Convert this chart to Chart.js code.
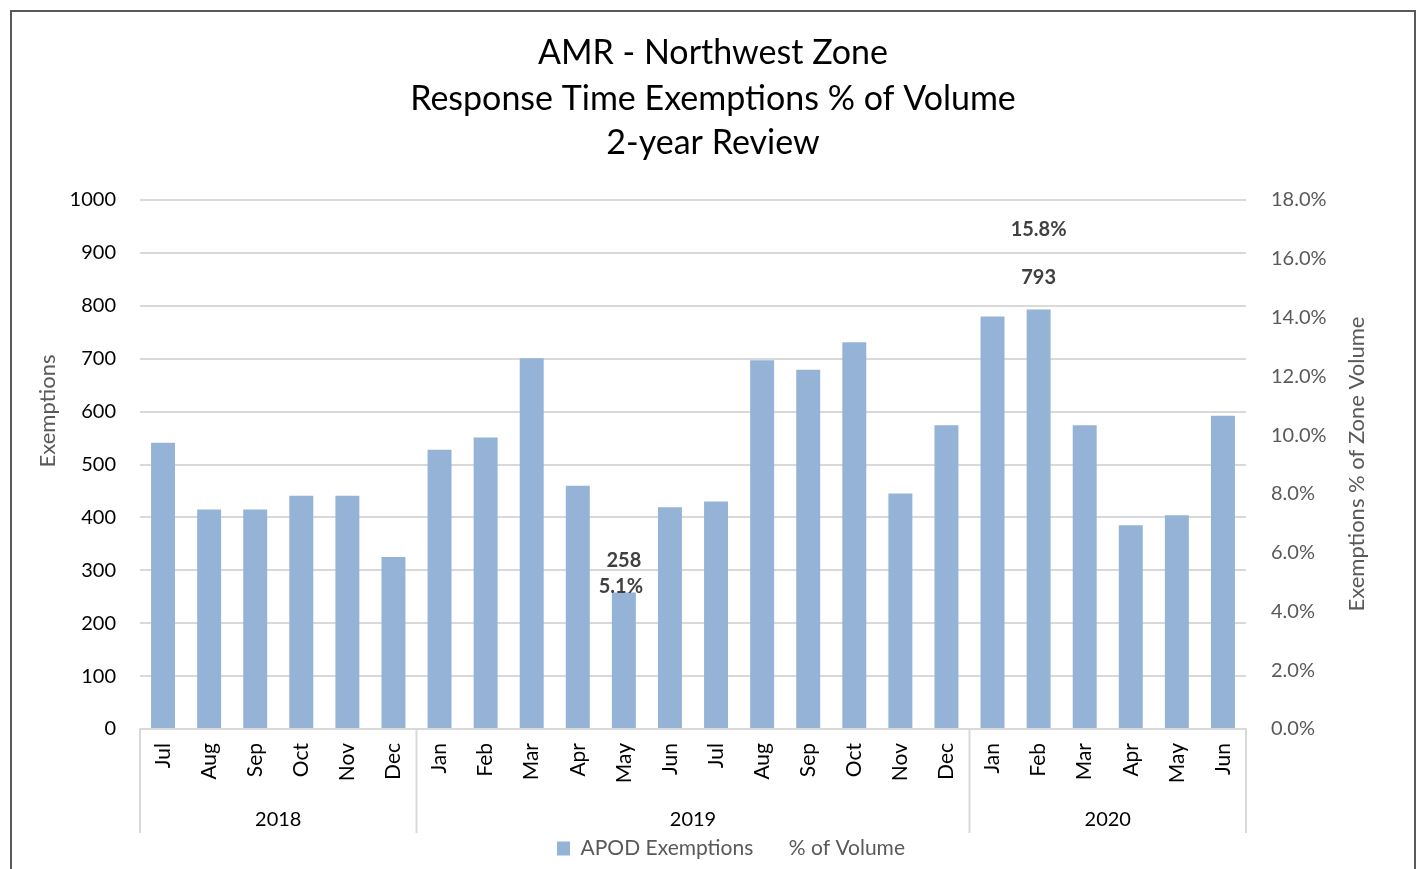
<!DOCTYPE html>
<html><head><meta charset="utf-8">
<script src="https://cdn.jsdelivr.net/npm/chart.js@4.4.1/dist/chart.umd.min.js"></script>
<style>html,body{margin:0;padding:0;background:#fff}#wrap{position:relative;width:1426px;height:869px}</style>
</head><body><div id="wrap"><canvas id="c" width="1426" height="869"></canvas></div>
<script>
const titleLines = ['AMR - Northwest Zone', 'Response Time Exemptions % of Volume', '2-year Review'];
const months = ['Jul','Aug','Sep','Oct','Nov','Dec','Jan','Feb','Mar','Apr','May','Jun','Jul','Aug','Sep','Oct','Nov','Dec','Jan','Feb','Mar','Apr','May','Jun'];
const years = ['2018', '2019', '2020'];
const yearSpans = [6, 12, 6];
const apodExemptions = [541,415,415,441,441,325,528,551,701,460,258,419,430,697,679,731,445,574,780,793,574,385,404,592];
const pctOfVolume = [null,null,null,null,null,null,null,null,null,null,5.1,null,null,null,null,null,null,null,null,15.8,null,null,null,null];
const labelledPoints = [10, 19];
const leftAxisTitle = 'Exemptions';
const rightAxisTitle = 'Exemptions % of Zone Volume';
const seriesNames = ['APOD Exemptions', '% of Volume'];

const FONT = 'Lato, "Open Sans", sans-serif';
const pctLabelOffset = {10: 7, 19: -35};

const decor = {
  id: 'decor',
  beforeDraw(chart) {
    const ctx = chart.ctx;
    ctx.save();
    ctx.fillStyle = '#fff';
    ctx.fillRect(0, 0, chart.width, chart.height);
    ctx.strokeStyle = '#595959';
    ctx.lineWidth = 2;
    ctx.beginPath();
    ctx.moveTo(11, 880); ctx.lineTo(11, 11); ctx.lineTo(1415, 11); ctx.lineTo(1415, 880);
    ctx.stroke();
    ctx.restore();
  },
  afterDraw(chart) {
    const ctx = chart.ctx;
    const xs = chart.scales.x, ys = chart.scales.y, y1 = chart.scales.y1;
    const ca = chart.chartArea;
    ctx.save();
    ctx.fillStyle = '#000';
    ctx.textAlign = 'center';
    ctx.textBaseline = 'middle';
    ctx.font = '34px ' + FONT;
    const ty = [53, 99, 143];
    titleLines.forEach((t, i) => ctx.fillText(t, 713, ty[i]));
    ctx.fillStyle = '#595959';
    ctx.font = '22px ' + FONT;
    ctx.save(); ctx.translate(48, 411); ctx.rotate(-Math.PI / 2); ctx.fillText(leftAxisTitle, 0, 0); ctx.restore();
    ctx.save(); ctx.translate(1357, 464); ctx.rotate(-Math.PI / 2); ctx.fillText(rightAxisTitle, 0, 0); ctx.restore();
    const cw = (xs.getPixelForValue(1) - xs.getPixelForValue(0));
    ctx.strokeStyle = '#d9d9d9';
    ctx.lineWidth = 2;
    let idx = 0;
    const bounds = [xs.getPixelForValue(0) - cw / 2];
    yearSpans.forEach(n => { idx += n; bounds.push(xs.getPixelForValue(idx - 1) + cw / 2); });
    bounds.forEach(b => { ctx.beginPath(); ctx.moveTo(b, ca.bottom); ctx.lineTo(b, 833); ctx.stroke(); });
    ctx.fillStyle = '#000';
    ctx.font = '20px ' + FONT;
    years.forEach((yr, i) => ctx.fillText(yr, (bounds[i] + bounds[i + 1]) / 2, 820));
    ctx.fillStyle = '#404040';
    ctx.font = 'bold 20px ' + FONT;
    labelledPoints.forEach(i => {
      const x = xs.getPixelForValue(i);
      ctx.fillText(String(apodExemptions[i]), x, ys.getPixelForValue(apodExemptions[i]) - 32);
      ctx.fillText(pctOfVolume[i].toFixed(1) + '%', x - 3 * (i === 10), y1.getPixelForValue(pctOfVolume[i]) + pctLabelOffset[i]);
    });
    ctx.restore();
  }
};

new Chart(document.getElementById('c'), {
  data: {
    labels: months,
    datasets: [
      { type: 'bar', label: seriesNames[0], data: apodExemptions, yAxisID: 'y', backgroundColor: '#95b3d7',
        borderColor: '#95b3d7', borderWidth: 0, barPercentage: 0.52, categoryPercentage: 1 },
      { type: 'line', label: seriesNames[1], data: pctOfVolume, yAxisID: 'y1', showLine: false, pointRadius: 0,
        borderColor: 'rgba(0,0,0,0)', backgroundColor: 'rgba(0,0,0,0)', borderWidth: 0 }
    ]
  },
  options: {
    responsive: false, animation: false, devicePixelRatio: 1,
    layout: { padding: { left: 36, right: 0, top: 200, bottom: 0 } },
    plugins: {
      legend: {
        position: 'bottom',
        labels: { font: { size: 21, family: FONT }, color: '#595959', boxWidth: 13, boxHeight: 14, padding: 12,
          sort: (a, b) => a.datasetIndex - b.datasetIndex }
      },
      title: { display: false },
      tooltip: { enabled: false }
    },
    scales: {
      x: {
        grid: { display: false, drawTicks: false },
        border: { display: true, color: '#d9d9d9', width: 2 },
        ticks: { minRotation: 90, maxRotation: 90, autoSkip: false, padding: 14, color: '#000', font: { size: 21, family: FONT } },
        afterFit: s => { s.height = 97; }
      },
      y: {
        position: 'left', min: 0, max: 1000,
        ticks: { stepSize: 100, padding: 24, color: '#000', font: { size: 20, family: FONT }, callback: v => String(v) },
        grid: { color: '#d9d9d9', lineWidth: 2, drawTicks: false },
        border: { display: false },
        afterFit: s => { s.width = 104; }
      },
      y1: {
        position: 'right', min: 0, max: 18,
        ticks: { stepSize: 2, padding: 25, color: '#595959', font: { size: 20, family: FONT }, callback: v => v.toFixed(1) + '%' },
        grid: { display: false, drawTicks: false },
        border: { display: false },
        afterFit: s => { s.width = 180; }
      }
    }
  },
  plugins: [decor]
});
</script></body></html>
